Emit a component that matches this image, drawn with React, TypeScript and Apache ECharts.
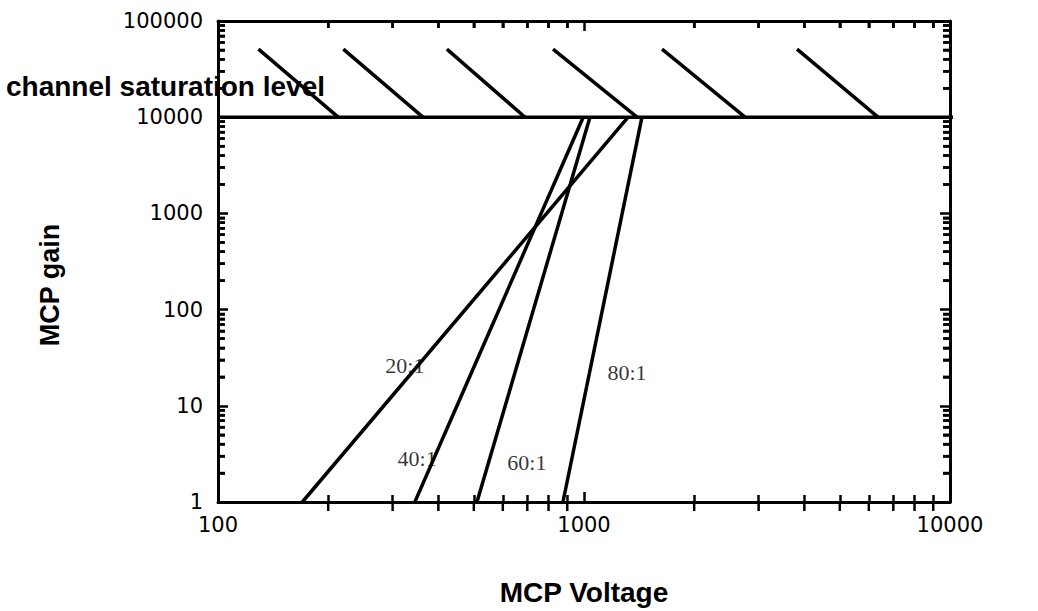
import React, { useEffect, useRef } from "react";
import * as echarts from "echarts";

// Axis ranges
const voltageMin = 100;
const voltageMax = 10000;
const gainMin = 1;
const gainMax = 100000;

// MCP gain curves (channel length-to-diameter ratio)
const ratioNames = ["20:1", "40:1", "60:1", "80:1"];
const curveStartVoltage = [170, 345, 510, 876];
const curveEndVoltage = [1320, 995, 1038, 1440];
const curveStartGain = [1, 1, 1, 1];
const curveEndGain = [10000, 10000, 10000, 10000];

// curve label positions
const labelVoltage = [324, 350, 698, 1311];
const labelGain = [26, 2.8, 2.6, 22];

// saturation level and hatch
const saturationGain = 10000;
const saturationStartVoltage = 100;
const saturationEndVoltage = 18000;
const hatchStartVoltage = [129, 220, 422, 823, 1634, 3820];
const hatchEndVoltage = [213, 363, 690, 1396, 2754, 6357];
const hatchTopGain = 51000;

// tick values
const minorMultipliers = [2, 3, 4, 5, 6, 7, 8, 9];
const xDecades = [100, 1000];
const yDecades = [1, 10, 100, 1000, 10000];

const FONT_SANS = "'DejaVu Sans', 'Liberation Sans', sans-serif";
const FONT_BOLD = "'Liberation Sans', Arial, sans-serif";
const FONT_SERIF = "'Liberation Serif', 'Times New Roman', serif";

const GRID = { left: 218, right: 88, top: 21, bottom: 100 };
const W = 1038;
const H = 611;

export default function App() {
  const ref = useRef<HTMLDivElement>(null);

  useEffect(() => {
    if (!ref.current) return;
    const chart = echarts.init(ref.current, undefined, { renderer: "svg" });

    const axisLine = { show: true, lineStyle: { color: "#000", width: 3 } };
    const tick = { show: true, inside: true, length: 10, lineStyle: { color: "#000", width: 2.5 } };
    const minorTick = { show: true, splitNumber: 9, length: 7, lineStyle: { color: "#000", width: 2.5 } };
    const labelFmt = (v: number) => String(Math.round(v));
    const LW = 3.5;

    const curveSeries = ratioNames.map((name, i) => ({
      type: "line",
      name,
      symbol: "none",
      lineStyle: { color: "#000", width: LW },
      data: [
        [curveStartVoltage[i], curveStartGain[i]],
        [curveEndVoltage[i], curveEndGain[i]],
      ],
      z: 3,
    }));

    const hatchSeries = hatchStartVoltage.map((sv, i) => ({
      type: "line",
      symbol: "none",
      lineStyle: { color: "#000", width: LW },
      data: [
        [sv, hatchTopGain],
        [hatchEndVoltage[i], saturationGain],
      ],
      z: 3,
    }));

    const xAxisBase = {
      type: "log",
      logBase: 10,
      min: voltageMin,
      max: voltageMax,
      interval: 1,
      axisLine,
      axisTick: tick,
      minorTick,
      splitLine: { show: false },
      minorSplitLine: { show: false },
    };
    const yAxisBase = {
      type: "log",
      logBase: 10,
      min: gainMin,
      max: gainMax,
      interval: 1,
      axisLine,
      axisTick: tick,
      minorTick,
      splitLine: { show: false },
      minorSplitLine: { show: false },
    };

    chart.setOption({
      animation: false,
      backgroundColor: "#fff",
      grid: { ...GRID, containLabel: false },
      xAxis: [
        {
          ...xAxisBase,
          position: "bottom",
          name: "MCP Voltage",
          nameLocation: "middle",
          nameGap: 76,
          nameTextStyle: { fontFamily: FONT_BOLD, fontWeight: "bold", fontSize: 28, color: "#000" },
          axisLabel: { color: "#000", fontFamily: FONT_SANS, fontSize: 21, margin: 12, formatter: labelFmt },
        },
        { ...xAxisBase, position: "top", axisLabel: { show: false } },
      ],
      yAxis: [
        {
          ...yAxisBase,
          position: "left",
          axisLabel: { color: "#000", fontFamily: FONT_SANS, fontSize: 21, margin: 15, formatter: labelFmt },
        },
        { ...yAxisBase, position: "right", axisLabel: { show: false } },
      ],
      series: [
        {
          type: "line",
          symbol: "none",
          clip: false,
          lineStyle: { color: "#000", width: LW },
          data: [
            [saturationStartVoltage, saturationGain],
            [saturationEndVoltage, saturationGain],
          ],
          z: 4,
        },
        ...curveSeries,
        ...hatchSeries,
        {
          type: "scatter",
          symbolSize: 0,
          silent: true,
          data: ratioNames.map((n, i) => ({ name: n, value: [labelVoltage[i], labelGain[i]] })),
          label: {
            show: true,
            position: "inside",
            formatter: (p: any) => p.name,
            color: "#000",
            textBorderWidth: 0,
            fontFamily: FONT_SERIF,
            fontSize: 22,
          },
          z: 6,
        },
      ],
    });

    // fallback minor log ticks placed through the chart's own axis scales
    const finder = { xAxisIndex: 0, yAxisIndex: 0 };
    const TL = 7;
    const tickStyle = { stroke: "#000", lineWidth: 2.5 };
    const tickEls: any[] = [];
    const gl = GRID.left;
    const gr = W - GRID.right;
    const gt = GRID.top;
    const gb = H - GRID.bottom;
    xDecades.forEach((d) =>
      minorMultipliers.forEach((m) => {
        const p = chart.convertToPixel(finder, [d * m, 100]) as number[];
        const x = p && isFinite(p[0]) ? p[0] : NaN;
        if (!isFinite(x)) return;
        tickEls.push({ type: "line", z: 10, shape: { x1: x, y1: gb, x2: x, y2: gb - TL }, style: tickStyle });
        tickEls.push({ type: "line", z: 10, shape: { x1: x, y1: gt, x2: x, y2: gt + TL }, style: tickStyle });
      })
    );
    yDecades.forEach((d) =>
      minorMultipliers.forEach((m) => {
        const p = chart.convertToPixel(finder, [1000, d * m]) as number[];
        const y = p && isFinite(p[1]) ? p[1] : NaN;
        if (!isFinite(y)) return;
        tickEls.push({ type: "line", z: 10, shape: { x1: gl, y1: y, x2: gl + TL, y2: y }, style: tickStyle });
        tickEls.push({ type: "line", z: 10, shape: { x1: gr, y1: y, x2: gr - TL, y2: y }, style: tickStyle });
      })
    );

    chart.setOption({
      graphic: [
        {
          type: "text",
          x: 50,
          y: 285,
          rotation: Math.PI / 2,
          style: {
            text: "MCP gain",
            fill: "#000",
            font: `bold 27px ${FONT_BOLD}`,
            align: "center",
            verticalAlign: "middle",
          },
        },
        {
          type: "text",
          x: 6,
          y: 86,
          style: {
            text: "channel saturation level",
            fill: "#000",
            font: `bold 28px ${FONT_BOLD}`,
            align: "left",
            verticalAlign: "middle",
          },
        },
        ...tickEls,
      ],
    });

    return () => chart.dispose();
  }, []);

  return (
    <div
      ref={ref}
      style={{ position: "fixed", left: 0, top: 0, width: W, height: H, background: "#fff" }}
    />
  );
}
